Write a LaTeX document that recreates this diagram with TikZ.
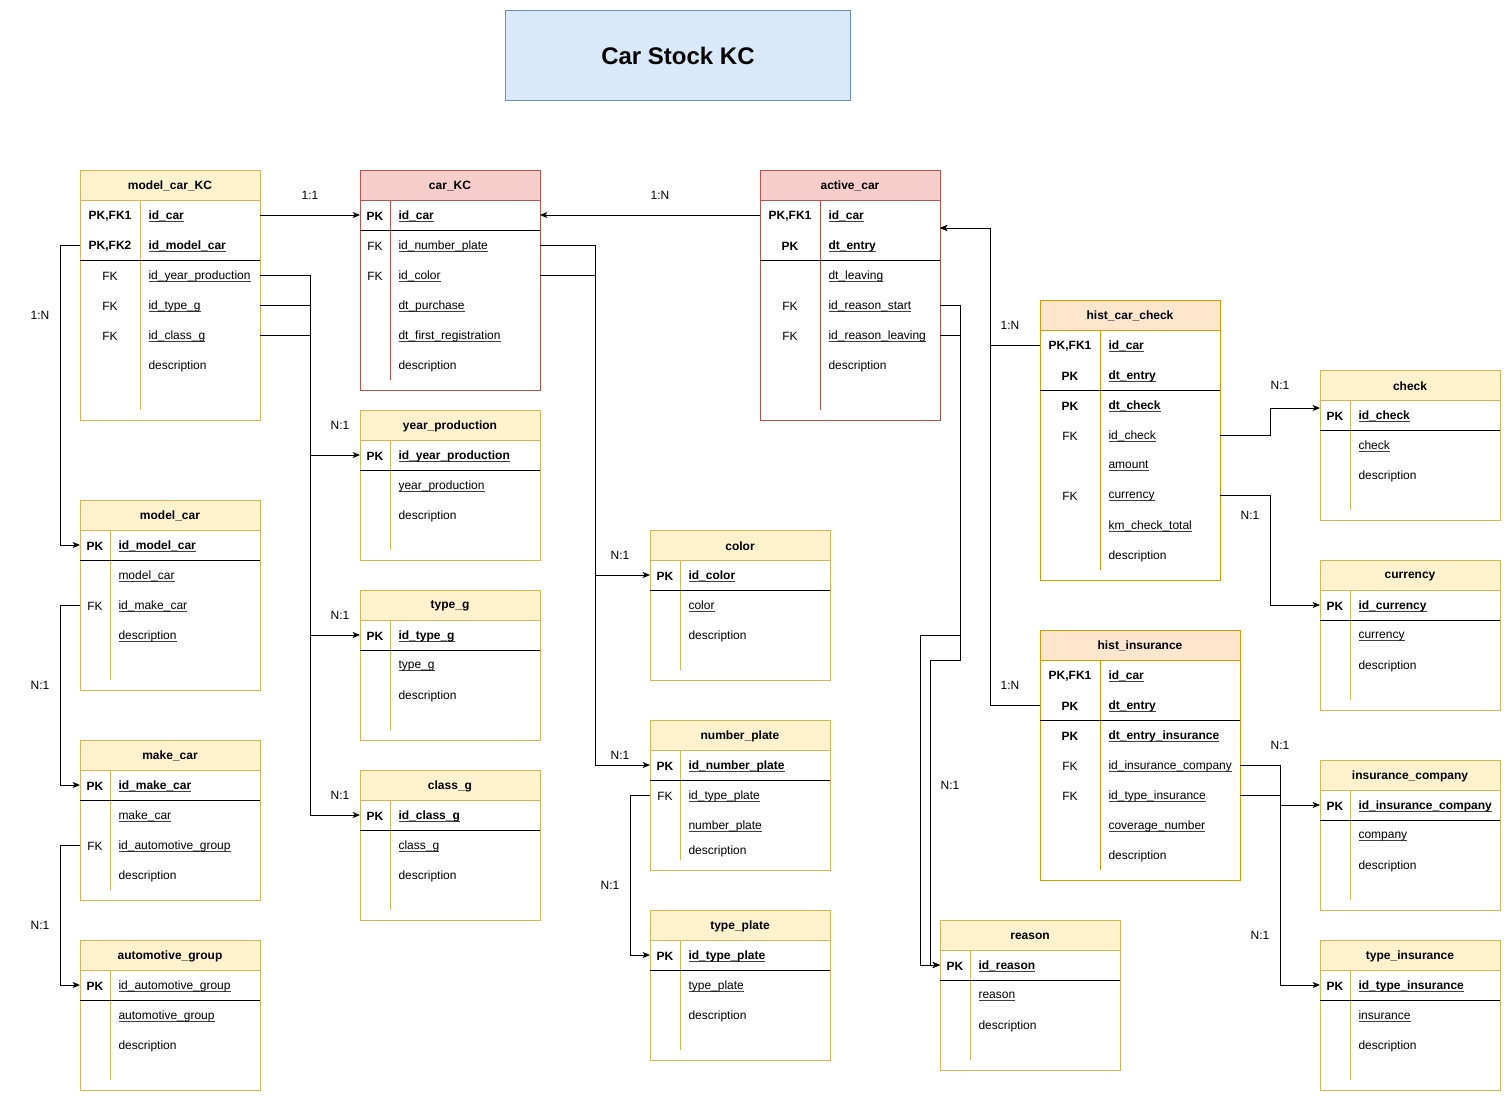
\documentclass[tikz,border=0pt]{standalone}
\usepackage{fontspec}
\setmainfont{Liberation Sans}
\usetikzlibrary{arrows.meta,calc}
\definecolor{ylline}{HTML}{D6B656}
\definecolor{ylfill}{HTML}{FFF2CC}
\definecolor{rdline}{HTML}{B85450}
\definecolor{rdfill}{HTML}{F8CECC}
\definecolor{orline}{HTML}{D79B00}
\definecolor{orfill}{HTML}{FFE6CC}
\definecolor{blline}{HTML}{6C8EBF}
\definecolor{blfill}{HTML}{DAE8FC}
\newsavebox\erbox
\newcommand\erul[1]{\sbox\erbox{#1}\rlap{\color{black!75}\rule[-1.7pt]{\wd\erbox}{0.55pt}}\usebox\erbox}
\newcommand\erpk[1]{\erul{\bfseries #1}}
\newcommand\ertable[8]{%
  \gdef\erX{#2}\gdef\erW{#4}\gdef\erK{#6}%
  \node[tframe, draw=#8line, minimum width=#4*0.75pt, minimum height=#5*0.75pt] (#1) at (#2,#3) {};
  \node[thead, draw=#8line, fill=#8fill, minimum width=#4*0.75pt] (#1-h) at (#2,#3) {};
  \node[ttitle] (#1-t) at (#2+#4/2,#3+15) {#7};
  \draw[draw=#8line] (#2+#6,#3+30) -- (#2+#6,#3+#5-10);
}
\newcommand\errow[4]{%
  \node[trow, minimum width=\erW*0.75pt] (#1) at (\erX+\erW/2,#2) {};
  \node[tkey] (#1-k) at (\erX+\erK/2,#2) {#3};
  \node[tfld] (#1-f) at (\erX+\erK+8,#2) {#4};
}
\newcommand\ersep[1]{\draw (\erX,#1) -- (\erX+\erW,#1);}
\tikzset{
  tframe/.style={rectangle, fill=white, anchor=north west, inner sep=0pt, outer sep=0pt},
  thead/.style={rectangle, anchor=north west, inner sep=0pt, outer sep=0pt, minimum height=22.5pt},
  ttitle/.style={inner sep=0pt, yshift=-0.8pt, font=\fontsize{9}{11}\selectfont\bfseries},
  trow/.style={rectangle, inner sep=0pt, outer sep=0pt, minimum height=22.5pt},
  tkey/.style={inner sep=0pt, yshift=-0.8pt, font=\fontsize{9}{11}\selectfont},
  tfld/.style={anchor=west, inner sep=0pt, yshift=-0.8pt, font=\fontsize{9}{11}\selectfont},
  rel/.style={inner sep=0pt, font=\fontsize{9}{11}\selectfont},
  arr/.style={-{Stealth[length=5.5pt,width=4.5pt,inset=1.5pt]}},
}
\begin{document}
\begin{tikzpicture}[x=0.75pt,y=-0.75pt,line width=0.75pt]
\useasboundingbox[fill=white] (0,0) rectangle (1511,1101);
% title
\node[draw=blline, fill=blfill, anchor=north west, minimum width=345*0.75pt, minimum height=90*0.75pt, inner sep=0pt, font=\fontsize{18}{22}\selectfont\bfseries] (title) at (505,10) {Car Stock KC};

% model_car_KC
\ertable{mkc}{80}{170}{180}{250}{60}{model\_car\_KC}{yl}
\errow{mkc-id}{215}{\bfseries PK,FK1}{\erpk{id\_car}}
\errow{mkc-model}{245}{\bfseries PK,FK2}{\erpk{id\_model\_car}}
\ersep{260}
\errow{mkc-year}{275}{FK}{\erul{id\_year\_production}}
\errow{mkc-type}{305}{FK}{\erul{id\_type\_g}}
\errow{mkc-class}{335}{FK}{\erul{id\_class\_g}}
\errow{mkc-desc}{365}{}{description}

% car_KC
\ertable{ckc}{360}{170}{180}{220}{30}{car\_KC}{rd}
\errow{ckc-id}{215}{\bfseries PK}{\erpk{id\_car}}
\ersep{230}
\errow{ckc-np}{245}{FK}{\erul{id\_number\_plate}}
\errow{ckc-col}{275}{FK}{\erul{id\_color}}
\errow{ckc-pur}{305}{}{\erul{dt\_purchase}}
\errow{ckc-reg}{335}{}{\erul{dt\_first\_registration}}
\errow{ckc-desc}{365}{}{description}

% active_car
\ertable{ac}{760}{170}{180}{250}{60}{active\_car}{rd}
\errow{ac-id}{215}{\bfseries PK,FK1}{\erpk{id\_car}}
\errow{ac-dt}{245}{\bfseries PK}{\erpk{dt\_entry}}
\ersep{260}
\errow{ac-lv}{275}{}{\erul{dt\_leaving}}
\errow{ac-rs}{305}{FK}{\erul{id\_reason\_start}}
\errow{ac-rl}{335}{FK}{\erul{id\_reason\_leaving}}
\errow{ac-desc}{365}{}{description}

% hist_car_check
\ertable{hc}{1040}{300}{180}{280}{60}{hist\_car\_check}{or}
\errow{hc-id}{345}{\bfseries PK,FK1}{\erpk{id\_car}}
\errow{hc-dt}{375}{\bfseries PK}{\erpk{dt\_entry}}
\ersep{390}
\errow{hc-dc}{405}{\bfseries PK}{\erpk{dt\_check}}
\errow{hc-chk}{435}{FK}{\erul{id\_check}}
\errow{hc-amt}{465}{}{\erul{amount}}
\errow{hc-cur}{495}{FK}{\erul{currency}}
\errow{hc-km}{525}{}{\erul{km\_check\_total}}
\errow{hc-desc}{555}{}{description}

% check
\ertable{ck}{1320}{370}{180}{150}{30}{check}{yl}
\errow{ck-id}{415}{\bfseries PK}{\erpk{id\_check}}
\ersep{430}
\errow{ck-c}{445}{}{\erul{check}}
\errow{ck-desc}{475}{}{description}

% currency
\ertable{cu}{1320}{560}{180}{150}{30}{currency}{yl}
\errow{cu-id}{605}{\bfseries PK}{\erpk{id\_currency}}
\ersep{620}
\errow{cu-c}{635}{}{\erul{currency}}
\errow{cu-desc}{665}{}{description}

% hist_insurance
\ertable{hi}{1040}{630}{200}{250}{60}{hist\_insurance}{or}
\errow{hi-id}{675}{\bfseries PK,FK1}{\erpk{id\_car}}
\errow{hi-dt}{705}{\bfseries PK}{\erpk{dt\_entry}}
\ersep{720}
\errow{hi-de}{735}{\bfseries PK}{\erpk{dt\_entry\_insurance}}
\errow{hi-ic}{765}{FK}{\erul{id\_insurance\_company}}
\errow{hi-ti}{795}{FK}{\erul{id\_type\_insurance}}
\errow{hi-cov}{825}{}{\erul{coverage\_number}}
\errow{hi-desc}{855}{}{description}

% insurance_company
\ertable{ic}{1320}{760}{180}{150}{30}{insurance\_company}{yl}
\errow{ic-id}{805}{\bfseries PK}{\erpk{id\_insurance\_company}}
\ersep{820}
\errow{ic-c}{835}{}{\erul{company}}
\errow{ic-desc}{865}{}{description}

% type_insurance
\ertable{ti}{1320}{940}{180}{150}{30}{type\_insurance}{yl}
\errow{ti-id}{985}{\bfseries PK}{\erpk{id\_type\_insurance}}
\ersep{1000}
\errow{ti-i}{1015}{}{\erul{insurance}}
\errow{ti-desc}{1045}{}{description}

% reason
\ertable{rs}{940}{920}{180}{150}{30}{reason}{yl}
\errow{rs-id}{965}{\bfseries PK}{\erpk{id\_reason}}
\ersep{980}
\errow{rs-r}{995}{}{\erul{reason}}
\errow{rs-desc}{1025}{}{description}

% model_car
\ertable{mc}{80}{500}{180}{190}{30}{model\_car}{yl}
\errow{mc-id}{545}{\bfseries PK}{\erpk{id\_model\_car}}
\ersep{560}
\errow{mc-m}{575}{}{\erul{model\_car}}
\errow{mc-mk}{605}{FK}{\erul{id\_make\_car}}
\errow{mc-desc}{635}{}{\erul{description}}

% make_car
\ertable{mk}{80}{740}{180}{160}{30}{make\_car}{yl}
\errow{mk-id}{785}{\bfseries PK}{\erpk{id\_make\_car}}
\ersep{800}
\errow{mk-m}{815}{}{\erul{make\_car}}
\errow{mk-ag}{845}{FK}{\erul{id\_automotive\_group}}
\errow{mk-desc}{875}{}{description}

% automotive_group
\ertable{ag}{80}{940}{180}{150}{30}{automotive\_group}{yl}
\errow{ag-id}{985}{\bfseries PK}{\erul{id\_automotive\_group}}
\ersep{1000}
\errow{ag-a}{1015}{}{\erul{automotive\_group}}
\errow{ag-desc}{1045}{}{description}

% year_production
\ertable{yp}{360}{410}{180}{150}{30}{year\_production}{yl}
\errow{yp-id}{455}{\bfseries PK}{\erpk{id\_year\_production}}
\ersep{470}
\errow{yp-y}{485}{}{\erul{year\_production}}
\errow{yp-desc}{515}{}{description}

% type_g
\ertable{tg}{360}{590}{180}{150}{30}{type\_g}{yl}
\errow{tg-id}{635}{\bfseries PK}{\erpk{id\_type\_g}}
\ersep{650}
\errow{tg-t}{665}{}{\erul{type\_g}}
\errow{tg-desc}{695}{}{description}

% class_g
\ertable{cg}{360}{770}{180}{150}{30}{class\_g}{yl}
\errow{cg-id}{815}{\bfseries PK}{\erpk{id\_class\_g}}
\ersep{830}
\errow{cg-c}{845}{}{\erul{class\_g}}
\errow{cg-desc}{875}{}{description}

% color
\ertable{co}{650}{530}{180}{150}{30}{color}{yl}
\errow{co-id}{575}{\bfseries PK}{\erpk{id\_color}}
\ersep{590}
\errow{co-c}{605}{}{\erul{color}}
\errow{co-desc}{635}{}{description}

% number_plate
\ertable{np}{650}{720}{180}{150}{30}{number\_plate}{yl}
\errow{np-id}{765}{\bfseries PK}{\erpk{id\_number\_plate}}
\ersep{780}
\errow{np-tp}{795}{FK}{\erul{id\_type\_plate}}
\errow{np-n}{825}{}{\erul{number\_plate}}
\errow{np-desc}{850}{}{description}

% type_plate
\ertable{tp}{650}{910}{180}{150}{30}{type\_plate}{yl}
\errow{tp-id}{955}{\bfseries PK}{\erpk{id\_type\_plate}}
\ersep{970}
\errow{tp-t}{985}{}{\erul{type\_plate}}
\errow{tp-desc}{1015}{}{description}

% connectors
\coordinate (ac-in) at (940,228);
\coordinate (ck-in) at (1320,408);
\draw[arr] (mkc-id.east) -- (ckc-id.west);
\draw[arr] (ac-id.west) -- (ckc-id.east);
\draw[arr] (mkc-model.west) -- ++(-20,0) |- (mc-id.west);
\draw[arr] (mc-mk.west) -- ++(-20,0) |- (mk-id.west);
\draw[arr] (mk-ag.west) -- ++(-20,0) |- (ag-id.west);
\draw[arr] (mkc-year.east) -- ++(50,0) |- (yp-id.west);
\draw[arr] (mkc-type.east) -- ++(50,0) |- (tg-id.west);
\draw[arr] (mkc-class.east) -- ++(50,0) |- (cg-id.west);
\draw[arr] (ckc-np.east) -- ++(55,0) |- (np-id.west);
\draw[arr] (ckc-col.east) -- ++(55,0) |- (co-id.west);
\draw[arr] (np-tp.west) -- ++(-20,0) |- (tp-id.west);
\draw[arr] (ac-rs.east) -- ++(20,0) |- ++(-40,330) |- (rs-id.west);
\draw[arr] (ac-rl.east) -- ++(20,0) |- ++(-30,325) |- (rs-id.west);
\draw[arr] (hc-id.west) -- ++(-50,0) |- (ac-in);
\draw[arr] (hi-dt.west) -- ++(-50,0) |- (ac-in);
\draw[arr] (hc-chk.east) -- ++(50,0) |- (ck-in);
\draw[arr] (hc-cur.east) -- ++(50,0) |- (cu-id.west);
\draw[arr] (hi-ic.east) -- ++(40,0) |- (ti-id.west);
\draw[arr] (hi-ti.east) -- ++(40,0) |- (ic-id.west);

% relation labels
\node[rel] (l1) at (310,195) {1:1};
\node[rel] (l2) at (660,195) {1:N};
\node[rel] (l3) at (40,315) {1:N};
\node[rel] (l4) at (40,685) {N:1};
\node[rel] (l5) at (40,925) {N:1};
\node[rel] (l6) at (340,425) {N:1};
\node[rel] (l7) at (340,615) {N:1};
\node[rel] (l8) at (340,795) {N:1};
\node[rel] (l9) at (620,555) {N:1};
\node[rel] (l10) at (620,755) {N:1};
\node[rel] (l11) at (610,885) {N:1};
\node[rel] (l12) at (950,785) {N:1};
\node[rel] (l13) at (1010,325) {1:N};
\node[rel] (l14) at (1010,685) {1:N};
\node[rel] (l15) at (1280,385) {N:1};
\node[rel] (l16) at (1250,515) {N:1};
\node[rel] (l17) at (1280,745) {N:1};
\node[rel] (l18) at (1260,935) {N:1};
\end{tikzpicture}
\end{document}
